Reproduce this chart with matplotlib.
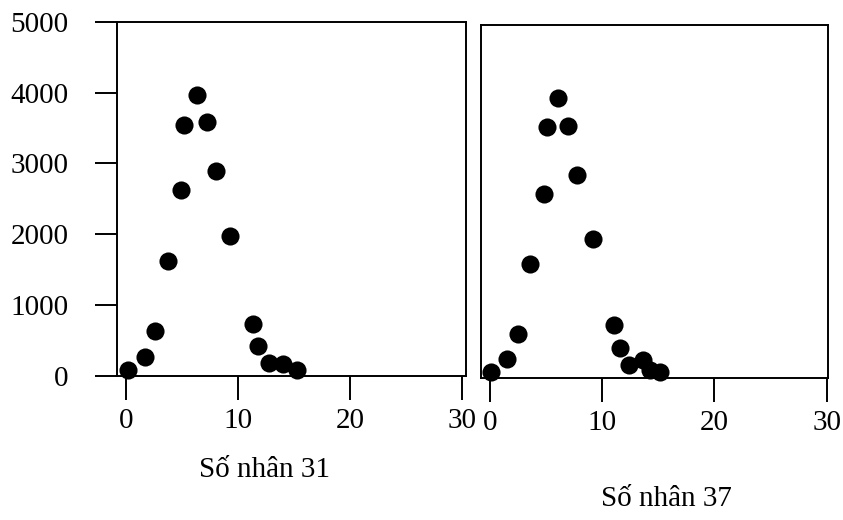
import numpy as np
import matplotlib
matplotlib.use("Agg")
import matplotlib.pyplot as plt

plt.rcParams['font.family'] = ['Liberation Serif', 'DejaVu Serif']

# datos
x31 = [0.2, 1.7, 2.6, 3.7, 4.9, 5.2, 6.3, 7.2, 8.0, 9.3, 11.3, 11.8, 12.8, 14.0, 15.3]
y31 = [90, 270, 630, 1630, 2620, 3550, 3970, 3580, 2890, 1970, 740, 430, 180, 170, 80]

x37 = [0.1, 1.5, 2.5, 3.6, 4.8, 5.1, 6.1, 7.0, 7.8, 9.2, 11.1, 11.6, 12.4, 13.6, 14.3, 15.2]
y37 = [90, 270, 630, 1620, 2610, 3550, 3970, 3570, 2880, 1970, 750, 430, 180, 260, 110, 90]

xticks = [0, 10, 20, 30]
yticks = [0, 1000, 2000, 3000, 4000, 5000]
labels = ["Số nhân 31", "Số nhân 37"]

fig = plt.figure(figsize=(8.43, 5.20), dpi=100)
ax1 = fig.add_axes([0.139, 0.277, 0.414, 0.681])
ax2 = fig.add_axes([0.571, 0.273, 0.411, 0.679])

for ax, x, y, xl in ((ax1, x31, y31, (-0.8, 30.4)), (ax2, x37, y37, (-0.75, 30.1))):
    ax.scatter(x, y, s=170, color='black', zorder=3, clip_on=False, linewidths=0)
    ax.set_xlim(*xl)
    ax.set_ylim(0, 5000)
    ax.set_xticks(xticks)
    for s in ax.spines.values():
        s.set_linewidth(1.4)
    ax.tick_params(axis='x', direction='out', length=17, width=1.4, pad=6, labelsize=21)
    ax.tick_params(axis='y', direction='out', length=16, width=1.4, pad=19, labelsize=21)

ax1.set_yticks(yticks)
ax2.set_yticks([])

fig.text(0.314, 0.097, labels[0], ha='center', va='center', fontsize=21)
fig.text(0.790, 0.040, labels[1], ha='center', va='center', fontsize=21)

plt.savefig("out.png", dpi=100)
